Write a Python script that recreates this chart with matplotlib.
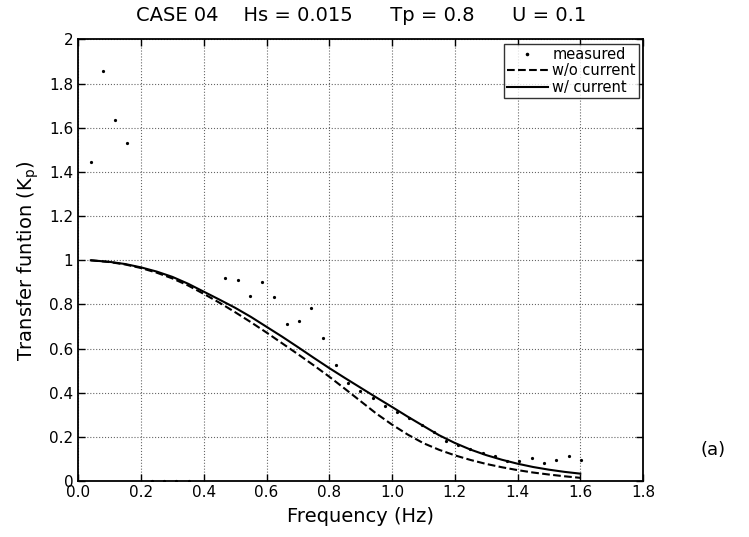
import numpy as np
import matplotlib
matplotlib.use('Agg')
import matplotlib.pyplot as plt

# measured transfer function (frequency grid ~ k/25.6 Hz)
f_meas = [0.039, 0.078, 0.117, 0.156, 0.234, 0.273, 0.313, 0.352,
          0.469, 0.508, 0.547, 0.586, 0.625, 0.664, 0.703, 0.742, 0.781,
          0.820, 0.859, 0.898, 0.938, 0.977, 1.016, 1.055, 1.094,
          1.133, 1.172, 1.211, 1.250, 1.289, 1.328, 1.367, 1.406,
          1.445, 1.484, 1.523, 1.563, 1.602]
kp_meas = [1.445, 1.856, 1.634, 1.531, 0.0, 0.0, 0.0, 0.0,
           0.919, 0.910, 0.839, 0.904, 0.833, 0.710, 0.723, 0.785, 0.649,
           0.526, 0.443, 0.407, 0.377, 0.341, 0.315, 0.285, 0.255,
           0.222, 0.182, 0.162, 0.147, 0.129, 0.114, 0.091, 0.091,
           0.104, 0.084, 0.095, 0.115, 0.094]

# theoretical curves, read every 0.05 Hz
f_th = [0.04, 0.1, 0.15, 0.2, 0.25, 0.3, 0.35, 0.4, 0.45, 0.5, 0.55, 0.6,
        0.65, 0.7, 0.75, 0.8, 0.85, 0.9, 0.95, 1.0, 1.05, 1.1, 1.15, 1.2,
        1.25, 1.3, 1.35, 1.4, 1.45, 1.5, 1.55, 1.6]
kp_nocur = [1.0, 0.992, 0.981, 0.965, 0.944, 0.918, 0.886, 0.848, 0.808, 0.765,
            0.720, 0.673, 0.624, 0.575, 0.525, 0.473, 0.418, 0.362, 0.306, 0.256,
            0.211, 0.172, 0.142, 0.117, 0.096, 0.078, 0.063, 0.050, 0.039, 0.030,
            0.022, 0.015]
kp_cur = [1.0, 0.993, 0.983, 0.968, 0.949, 0.925, 0.894, 0.858, 0.822, 0.785,
          0.744, 0.699, 0.654, 0.607, 0.559, 0.512, 0.467, 0.423, 0.379, 0.336,
          0.292, 0.250, 0.208, 0.173, 0.143, 0.118, 0.097, 0.079, 0.064, 0.052,
          0.042, 0.034]

xticks = np.arange(0, 1.81, 0.2)
yticks = np.arange(0, 2.01, 0.2)

fig = plt.figure(figsize=(7.49, 5.37), dpi=100)
ax = fig.add_axes([0.1045, 0.104, 0.754, 0.8225])

ax.plot(f_meas, kp_meas, 'k.', ms=2.6, label='measured')
ax.plot(f_th, kp_nocur, 'k--', lw=1.5, label='w/o current')
ax.plot(f_th, kp_cur, 'k-', lw=1.5, label='w/ current')

ax.set_xlim(0, 1.8); ax.set_ylim(0, 2)
ax.set_xticks(xticks)
ax.set_xticklabels([f'{v:.1f}' for v in xticks])
ax.set_yticks(yticks)
ax.set_yticklabels([f'{v:g}' for v in np.round(yticks, 1)])
ax.tick_params(direction='in', top=True, right=True, length=5, width=1, labelsize=11)
ax.tick_params(axis='x', pad=3)
ax.grid(True, ls=':', color='k', lw=0.8, alpha=0.6)
for s in ax.spines.values():
    s.set_linewidth(1.3)

ax.set_title('CASE 04    Hs = 0.015      Tp = 0.8      U = 0.1', fontsize=14, pad=13)
ax.set_xlabel('Frequency (Hz)', fontsize=14, labelpad=5)
ax.set_ylabel('Transfer funtion (K$_\\mathregular{p}$)', fontsize=14, labelpad=6)

leg = ax.legend(loc='upper right', fontsize=10.5, frameon=True, fancybox=False,
                borderpad=0.2, labelspacing=0.1, handlelength=2.8, handletextpad=0.3,
                borderaxespad=0.3, markerscale=1.2)
leg.get_frame().set_edgecolor('k')
leg.get_frame().set_linewidth(1)

fig.text(0.952, 1 - 450 / 537, '(a)', fontsize=13, ha='center', va='center')

fig.savefig('out.png', dpi=100)
